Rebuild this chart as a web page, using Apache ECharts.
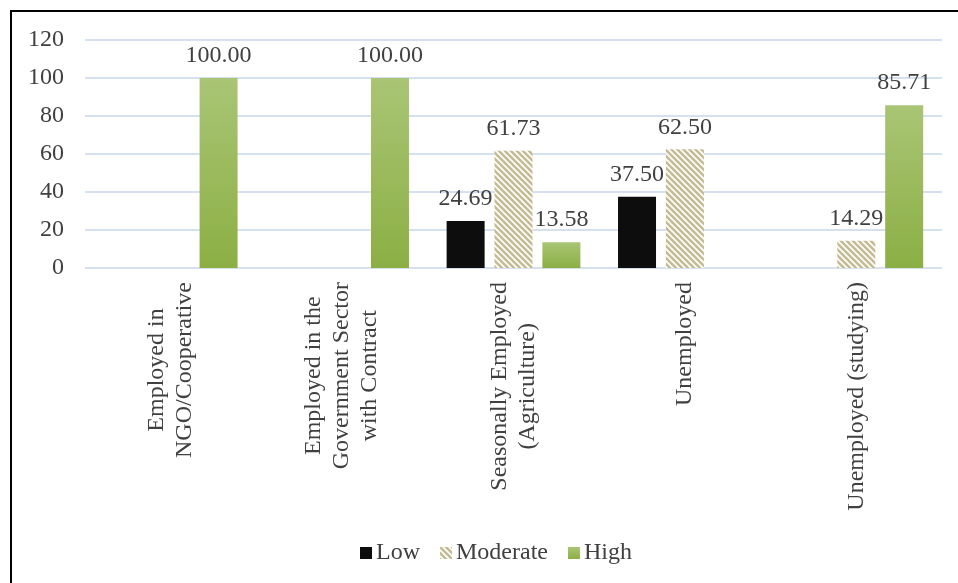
<!DOCTYPE html>
<html>
<head>
<meta charset="utf-8">
<script src="https://cdn.jsdelivr.net/npm/echarts@6/dist/echarts.min.js"></script>
<style>
  html, body { margin: 0; padding: 0; background: #fff; }
  #chart { width: 958px; height: 583px; }
</style>
</head>
<body>
<div id="chart"></div>
<script>
// Employment status categories
const categories = [
  'Employed in\nNGO/Cooperative',
  'Employed in the\nGovernment Sector\nwith Contract',
  'Seasonally Employed\n(Agriculture)',
  'Unemployed',
  'Unemployed (studying)'
];
// Percent per level
const lowValues = [0, 0, 24.69, 37.50, 0];
const moderateValues = [0, 0, 61.73, 62.50, 14.29];
const highValues = [100.00, 100.00, 13.58, 0, 85.71];
const seriesNames = ['Low', 'Moderate', 'High'];
const yTicks = { min: 0, max: 120, interval: 20 };

const FONT = '"Liberation Serif", "Times New Roman", serif';
const TEXT = '#404040';
const FS = 24;

// Diagonal hatch tile for the "Moderate" bars
function hatchTile() {
  const s = 6;
  const c = document.createElement('canvas');
  c.width = s; c.height = s;
  const g = c.getContext('2d');
  g.fillStyle = '#ffffff';
  g.fillRect(0, 0, s, s);
  g.strokeStyle = '#c4bb93';
  g.lineWidth = 2.6;
  for (const k of [-s, 0, s]) {
    g.beginPath();
    g.moveTo(k - 1, -1);
    g.lineTo(k + s + 1, s + 1);
    g.stroke();
  }
  return c;
}

const greenGrad = new echarts.graphic.LinearGradient(0, 0, 0, 1, [
  { offset: 0, color: '#a9c575' },
  { offset: 1, color: '#8caf44' }
]);

const labelCfg = {
  show: true,
  position: 'top',
  distance: 10,
  fontFamily: FONT,
  fontSize: FS,
  color: TEXT,
  formatter: p => (p.value ? p.value.toFixed(2) : '')
};

const chart = echarts.init(document.getElementById('chart'), null, { renderer: 'canvas' });
chart.setOption({
  animation: false,
  backgroundColor: '#fff',
  textStyle: { fontFamily: FONT },
  graphic: [{
    type: 'rect',
    silent: true,
    shape: { x: 11, y: 11, width: 1000, height: 1000 },
    style: { fill: 'none', stroke: '#000', lineWidth: 2 }
  }],
  grid: { left: 85, right: 16, top: 40, bottom: 315 },
  legend: {
    left: 355,
    top: 536,
    itemWidth: 12,
    itemHeight: 12,
    itemGap: 20,
    icon: 'rect',
    textStyle: { fontFamily: FONT, fontSize: FS, color: TEXT, padding: [0, 0, 0, -1] },
    data: seriesNames
  },
  xAxis: {
    type: 'category',
    data: categories,
    axisLine: { show: false },
    axisTick: { show: false },
    axisLabel: {
      interval: 0,
      rotate: 90,
      margin: 14,
      formatter: v => v.split('\n').map(l => '{c|' + l + '}').join('\n'),
      rich: {
        c: { align: 'center', fontFamily: FONT, fontSize: FS, lineHeight: 28, color: TEXT }
      }
    }
  },
  yAxis: {
    type: 'value',
    min: yTicks.min,
    max: yTicks.max,
    interval: yTicks.interval,
    axisLine: { show: false },
    axisTick: { show: false },
    axisLabel: { margin: 21, fontFamily: FONT, fontSize: FS, color: TEXT },
    splitLine: { lineStyle: { color: '#d5e1f1', width: 2 } }
  },
  series: [
    {
      name: seriesNames[0], type: 'bar', data: lowValues,
      barWidth: 38, barGap: '26%',
      itemStyle: { color: '#0d0d0d' },
      label: labelCfg
    },
    {
      name: seriesNames[1], type: 'bar', data: moderateValues,
      barWidth: 38, barGap: '26%',
      itemStyle: { color: { image: hatchTile(), repeat: 'repeat' } },
      label: labelCfg
    },
    {
      name: seriesNames[2], type: 'bar', data: highValues,
      barWidth: 38, barGap: '26%',
      itemStyle: { color: greenGrad },
      label: labelCfg
    }
  ]
});
</script>
</body>
</html>
